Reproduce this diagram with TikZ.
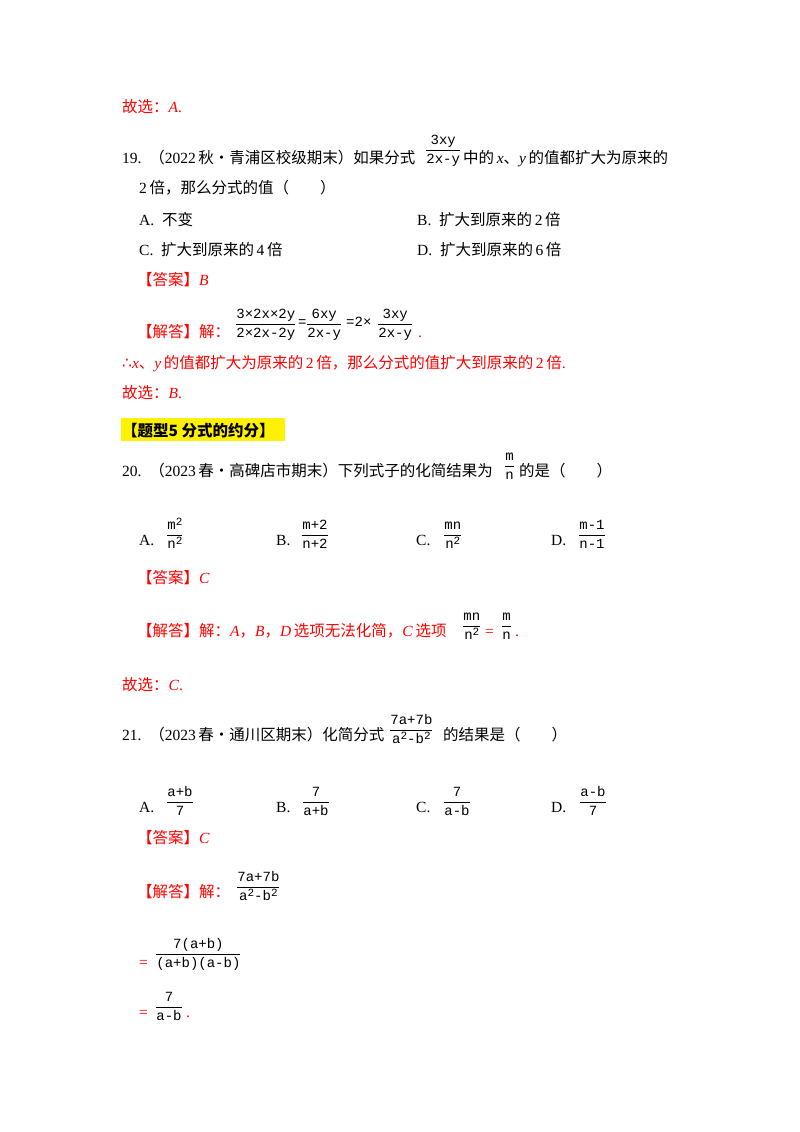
\documentclass[tikz,border=0pt]{standalone}
\usepackage{amsmath}
\usepackage{fontspec}
\setmainfont{Liberation Serif}
\newfontfamily\cjk{Noto Sans CJK SC}
\newfontfamily\dejavu{DejaVu Sans}
\newfontfamily\frfont{Liberation Mono}
\newcommand{\zh}[1]{{\cjk #1}}
\newcommand{\sq}{\raisebox{0.55ex}{\fontsize{11}{11}\selectfont 2}}
\newcommand{\fr}[2]{{\fontsize{14}{15}\selectfont$\genfrac{}{}{0.6pt}{0}{\text{\frfont #1}}{\text{\frfont #2}}$}}
\definecolor{ans}{RGB}{255,0,0}
\begin{document}
\begin{tikzpicture}[x=1pt,y=-1pt,
  t/.style={anchor=base west,inner sep=0pt,font=\fontsize{15.5}{18}\selectfont},
  r/.style={t,text=ans},
  f/.style={anchor=south west,inner sep=0pt,font=\fontsize{14}{15}\frfont}]
\useasboundingbox (0,0) rectangle (800,1132);
\fill[white] (0,0) rectangle (800,1132);
\node[r] (s1) at (122,112) {\zh{故选：}\textit{A}.};
\node[t] (q19) at (122,163) {19.\ \ \zh{（}2022\,\zh{秋•青浦区校级期末）如果分式}};
\node[f] (f19) at (425,167) {\fr{3xy}{2x-y}};
\node[t] (q19b) at (463,163) {\zh{中的}\,\textit{x}\zh{、}\textit{y}\,\zh{的值都扩大为原来的}};
\node[t] (q19c) at (139,193) {2\,\zh{倍，那么分式的值（\qquad ）}};
\node[t] (a19) at (139,225) {A.\ \ \zh{不变}};
\node[t] (b19) at (417,225) {B.\ \ \zh{扩大到原来的}\,2\,\zh{倍}};
\node[t] (c19) at (139,255) {C.\ \ \zh{扩大到原来的}\,4\,\zh{倍}};
\node[t] (d19) at (417,255) {D.\ \ \zh{扩大到原来的}\,6\,\zh{倍}};
\node[r] (k19) at (137,285) {\zh{【答案】}\textit{B}};
\node[r] (j19) at (137,337) {\zh{【解答】解：}};
\node[f] (g19a) at (235,341) {\fr{3×2x×2y}{2×2x-2y}};
\node[f,anchor=base west] (g19b) at (298,326) {=};
\node[f] (g19c) at (306,341) {\fr{6xy}{2x-y}};
\node[f,anchor=base west] (g19d) at (346,326) {=2×};
\node[f] (g19e) at (377,341) {\fr{3xy}{2x-y}};
\node[r] (p19) at (418,337) {.};
\node[r] (th19) at (122,368) {{\dejavu ∴}\textit{x}\zh{、}\textit{y}\,\zh{的值都扩大为原来的}\,2\,\zh{倍，那么分式的值扩大到原来的}\,2\,\zh{倍}.};
\node[r] (s2) at (122,398) {\zh{故选：}\textit{B}.};
\fill[yellow] (121,418) rectangle (285,441);
\node[t] (h5) at (122,436) {\zh{\bfseries【题型5 分式的约分】}};
\node[t] (q20) at (122,476) {20.\ \ \zh{（}2023\,\zh{春•高碑店市期末）下列式子的化简结果为}};
\node[f] (f20) at (504,480) {\fr{m}{n}};
\node[t] (q20b) at (519,476) {\zh{的是（\qquad ）}};
\node[t] (a20) at (139,545) {A.};
\node[f] (fa20) at (166,549) {\fr{m\sq}{n\sq}};
\node[t] (b20) at (276,545) {B.};
\node[f] (fb20) at (301,549) {\fr{m+2}{n+2}};
\node[t] (c20) at (416,545) {C.};
\node[f] (fc20) at (443,549) {\fr{mn}{n\sq}};
\node[t] (d20) at (551,545) {D.};
\node[f] (fd20) at (578,549) {\fr{m-1}{n-1}};
\node[r] (k20) at (137,583) {\zh{【答案】}\textit{C}};
\node[r] (j20) at (137,636) {\zh{【解答】解：}\textit{A}\zh{，}\textit{B}\zh{，}\textit{D}\,\zh{选项无法化简，}\textit{C}\,\zh{选项}};
\node[f] (g20a) at (462,640) {\fr{mn}{n\sq}};
\node[r] (g20b) at (485,636) {=};
\node[f] (g20c) at (501,640) {\fr{m}{n}};
\node[r] (p20) at (515,636) {.};
\node[r] (s3) at (122,690) {\zh{故选：}\textit{C}.};
\node[t] (q21) at (122,740) {21.\ \ \zh{（}2023\,\zh{春•通川区期末）化简分式}};
\node[f] (f21) at (389,744) {\fr{7a+7b}{a\sq-b\sq}};
\node[t] (q21b) at (443,740) {\zh{的结果是（\qquad ）}};
\node[t] (a21) at (139,812) {A.};
\node[f] (fa21) at (166,816) {\fr{a+b}{7}};
\node[t] (b21) at (276,812) {B.};
\node[f] (fb21) at (302,816) {\fr{7}{a+b}};
\node[t] (c21) at (416,812) {C.};
\node[f] (fc21) at (443,816) {\fr{7}{a-b}};
\node[t] (d21) at (551,812) {D.};
\node[f] (fd21) at (579,816) {\fr{a-b}{7}};
\node[r] (k21) at (137,843) {\zh{【答案】}\textit{C}};
\node[r] (j21) at (137,897) {\zh{【解答】解：}};
\node[f] (g21) at (236,901) {\fr{7a+7b}{a\sq-b\sq}};
\node[r] (e1) at (139,967) {=};
\node[f] (g22) at (155,971) {\fr{7(a+b)}{(a+b)(a-b)}};
\node[r] (e2) at (139,1017) {=};
\node[f] (g23) at (155,1021) {\fr{7}{a-b}};
\node[r] (p21) at (186,1017) {.};
\end{tikzpicture}
\end{document}
